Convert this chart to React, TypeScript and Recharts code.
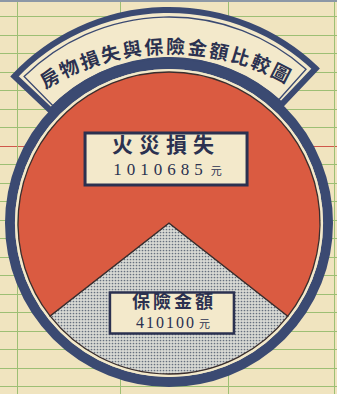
import React from 'react';
import { PieChart, Pie, Cell, Customized } from 'recharts';

// values (yuan)
const categories = ['保險金額', '火災損失'];
const amounts = [410100, 1010685];
const amountLabels = ['410100', '1010685'];
const title = '房物損失與保險金額比較圖';

const data = categories.map((name, i) => ({ name, value: amounts[i], label: amountLabels[i] }));

const W = 337;
const H = 394;
const CX = 169;
const CY = 223;
const R = 151;

const NAVY = '#3b4a72';
const INK = '#2b3150';
const RED = '#da5b41';
const PAPER = '#f0e4bf';
const CREAM = '#f3e9cb';

const RAD = Math.PI / 180;
const pt = (r: number, a: number, cx = CX, cy = CY) => [cx + r * Math.cos(a * RAD), cy - r * Math.sin(a * RAD)];

function sectorPath(rIn: number, rOut: number, a1: number, a2: number) {
  const [ox1, oy1] = pt(rOut, a2);
  const [ox2, oy2] = pt(rOut, a1);
  const [ix1, iy1] = pt(rIn, a1);
  const [ix2, iy2] = pt(rIn, a2);
  return `M${ox1},${oy1} A${rOut},${rOut} 0 0 1 ${ox2},${oy2} L${ix1},${iy1} A${rIn},${rIn} 0 0 0 ${ix2},${iy2} Z`;
}

function Paper() {
  const rows: number[] = [];
  for (let y = 16; y < H; y += 18.5) rows.push(Math.round(y) + 0.5);
  const cols = [17.5, 120.5, 228.5, 334.5];
  return (
    <svg width={W} height={H} style={{ position: 'absolute', left: 0, top: 0 }}>
      <rect width={W} height={H} fill={PAPER} />
      {rows.map((y) => (
        <line key={y} x1={0} x2={W} y1={y} y2={y} stroke={Math.abs(y - 146) < 3 ? '#d0584a' : '#9dbf74'} strokeWidth={1} />
      ))}
      {cols.map((x) => (
        <line key={x} x1={x} x2={x} y1={0} y2={H} stroke="#9dbf74" strokeWidth={1} />
      ))}
      <rect x={0} y={0} width={W} height={2} fill="#8d98a6" />
    </svg>
  );
}

function Frame() {
  // title text sits on a flatter arc than the banner
  const tcx = CX + 1;
  const tcy = 290;
  const tr = 245;
  const step = 5.15;
  const start = 91.25 + (step * (title.length - 1)) / 2;
  return (
    <g>
      <defs>
        <pattern id="dots" width={3} height={3} patternUnits="userSpaceOnUse">
          <rect width={3} height={3} fill="#d8d9d4" />
          <circle cx={1.5} cy={1.5} r={0.85} fill="#66707e" />
        </pattern>
      </defs>
      <path d={sectorPath(163, 213, 46.5, 136.5)} fill={CREAM} stroke={NAVY} strokeWidth={6} strokeLinejoin="miter" />
      <path d={sectorPath(165, 206, 48.3, 134.7)} fill="none" stroke={NAVY} strokeWidth={1.3} />
      <circle cx={CX} cy={CY} r={159} fill="none" stroke={NAVY} strokeWidth={10} />
      <circle cx={CX} cy={CY} r={152.8} fill="none" stroke={CREAM} strokeWidth={2.6} />
      {title.split('').map((ch, i) => {
        const a = start - i * step;
        const [x, y] = pt(tr, a, tcx, tcy);
        return (
          <text
            key={i}
            x={x}
            y={y}
            transform={`rotate(${90 - a} ${x} ${y})`}
            textAnchor="middle"
            dominantBaseline="central"
            fontFamily="'Noto Sans CJK TC', sans-serif"
            fontWeight={700}
            fontSize={19}
            fill={INK}
          >
            {ch}
          </text>
        );
      })}
    </g>
  );
}

// distance of each label box from the pie centre, and box sizes
const labelRadius = [90, 64];
const boxSize = [
  [124, 41],
  [162, 52],
];

function renderLabel(props: any) {
  const { cx, cy, midAngle, index } = props;
  const d = data[index];
  const x = cx + labelRadius[index] * Math.cos(-midAngle * RAD) + (index === 1 ? -3 : 3);
  const y = cy + labelRadius[index] * Math.sin(-midAngle * RAD);
  const [w, h] = boxSize[index];
  const big = index === 1;
  return (
    <g key={d.name}>
      <rect x={x - w / 2} y={y - h / 2} width={w} height={h} fill={CREAM} stroke={INK} strokeWidth={big ? 3 : 2.5} />
      <text
        x={x + (big ? 0 : 2)}
        y={y - (big ? 7 : 5)}
        textAnchor="middle"
        fontFamily="'Noto Sans CJK TC', sans-serif"
        fontWeight={700}
        fontSize={big ? 21 : 18}
        letterSpacing={big ? 6 : 3}
        fill={INK}
      >
        {d.name}
      </text>
      <text
        x={x + (big ? 4 : 2)}
        y={y + (big ? 16 : 15)}
        textAnchor="middle"
        fontFamily="'Liberation Serif', serif"
        fontSize={big ? 17 : 16}
        letterSpacing={big ? 5 : 2}
        fill={INK}
      >
        {d.label}
        <tspan fontFamily="'Noto Sans CJK TC', sans-serif" fontSize={11} dx={3}>
          元
        </tspan>
      </text>
    </g>
  );
}

export default function App() {
  return (
    <div style={{ position: 'absolute', left: 0, top: 0, width: W, height: H }}>
      <Paper />
      <div style={{ position: 'absolute', left: 0, top: 0 }}>
        <PieChart width={W} height={H} margin={{ top: 0, right: 0, bottom: 0, left: 0 }}>
          <Customized component={Frame} />
          <Pie
            data={data}
            dataKey="value"
            nameKey="name"
            cx={CX}
            cy={CY}
            outerRadius={R}
            startAngle={218}
            endAngle={578}
            stroke="#3a2e2e"
            strokeWidth={1.3}
            label={renderLabel}
            labelLine={false}
            isAnimationActive={false}
          >
            {data.map((d, i) => (
              <Cell key={d.name} fill={i === 0 ? 'url(#dots)' : RED} />
            ))}
          </Pie>
        </PieChart>
      </div>
    </div>
  );
}
